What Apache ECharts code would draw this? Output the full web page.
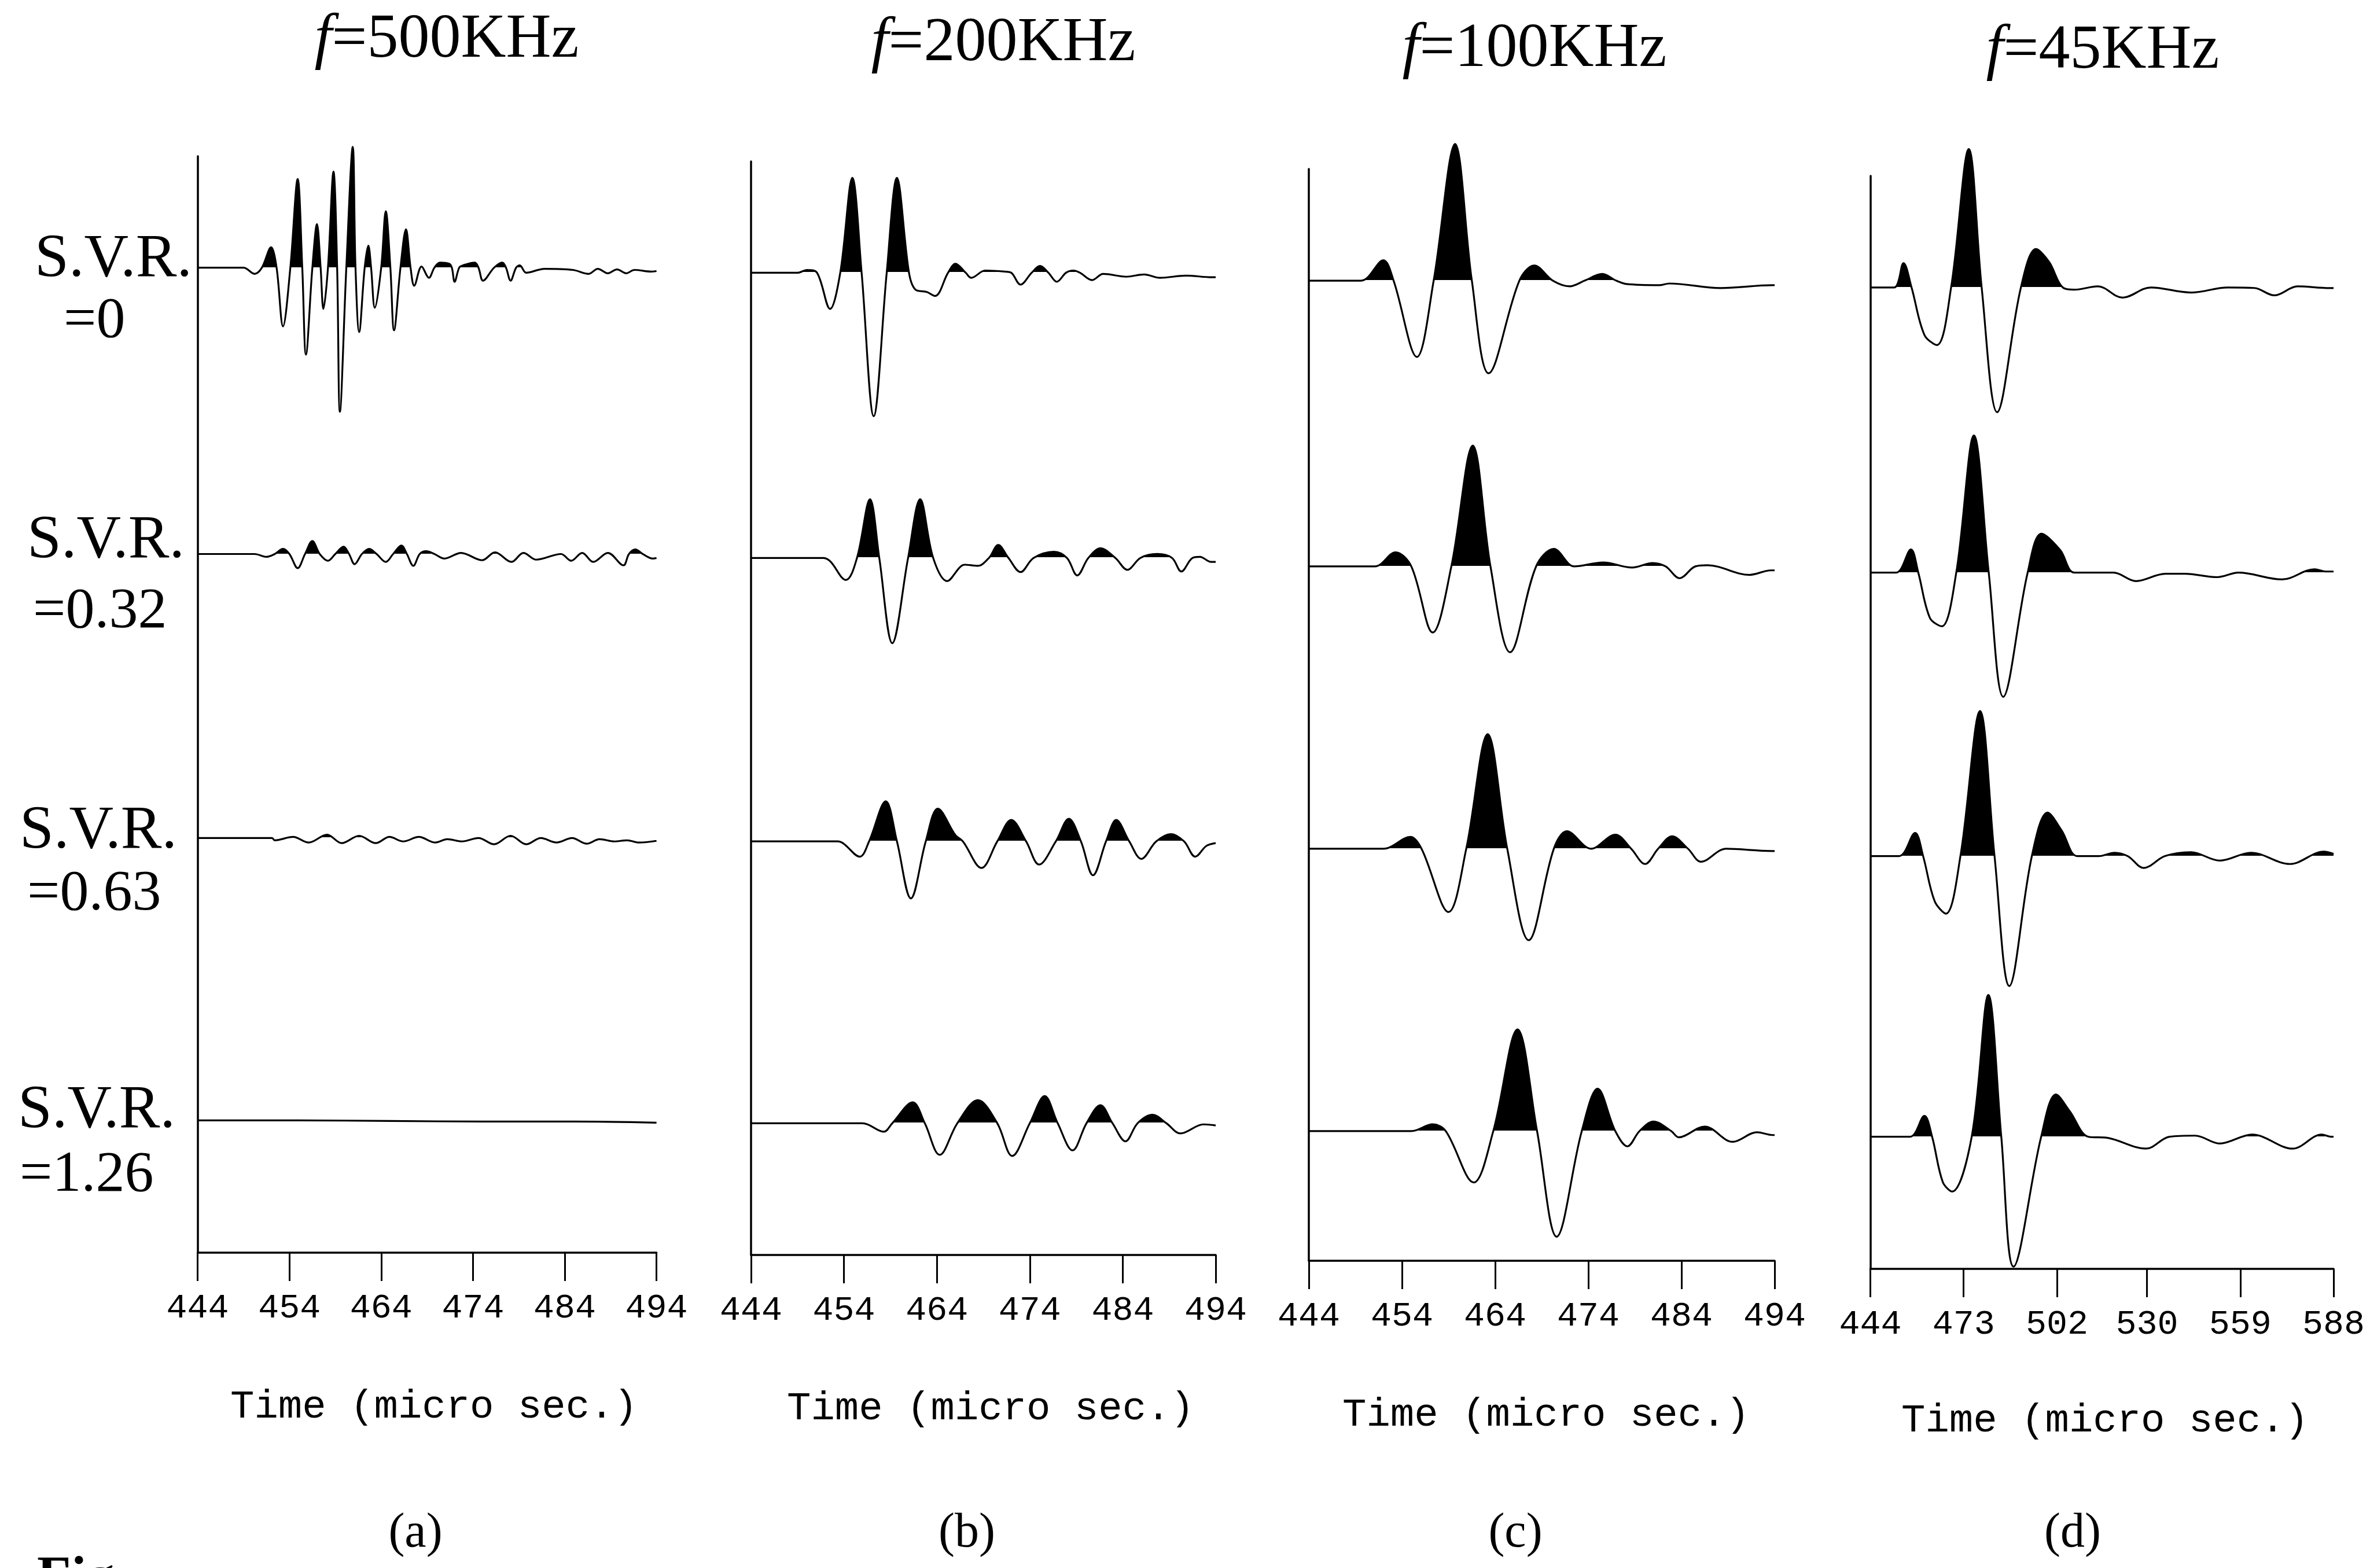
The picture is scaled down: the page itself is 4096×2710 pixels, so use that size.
<!DOCTYPE html>
<html><head><meta charset="utf-8">
<script src="https://cdn.jsdelivr.net/npm/echarts@6/dist/echarts.min.js"></script>
<style>html,body{margin:0;padding:0;background:#fff}#c{width:4096px;height:2710px}</style>
</head><body><div id="c"></div>
<script>
// ---------- DATA (time in micro sec, amplitude in arbitrary units) ----------
const FREQ_LABELS = ['=500KHz', '=200KHz', '=100KHz', '=45KHz'];
const PANEL_LABELS = ['(a)', '(b)', '(c)', '(d)'];
const SVR_HEAD = 'S.V.R.';
const SVR_VALUES = ['=0', '=0.32', '=0.63', '=1.26'];
const AXIS_TITLE = 'Time (micro sec.)';
const TICKS_50US = [444, 454, 464, 474, 484, 494];
const TICKS_45K = [444, 473, 502, 530, 559, 588];
const FIG_TEXT = 'Fig.';

// f = 500 KHz
const W500_SVR0 = [[444,0],[449.0,0],[450.2,-11],[451.0,0],[452.0,36],[452.6,0],[453.3,-104],[454.1,0],[454.9,157],[455.4,0],[455.8,-154],[456.5,0],[457.0,77],[457.4,0],[457.7,-73],[458.2,0],[458.8,170],[459.2,0],[459.5,-255],[460.2,0],[460.9,214],[461.2,0],[461.6,-114],[462.2,0],[462.6,39],[462.9,0],[463.3,-71],[464.0,0],[464.5,100],[465.0,0],[465.4,-111],[466.1,0],[466.7,68],[467.2,0],[467.6,-32],[468.4,2],[469.2,-18],[469.8,0],[470.4,9],[471.4,7],[471.7,0],[472.0,-25],[472.5,0],[472.9,4],[474.2,9],[474.6,0],[475.1,-23],[476.3,0],[477.2,9],[477.6,0],[478.1,-23],[478.7,0],[479.1,4],[479.8,-9],[481.8,-2],[484.9,-4],[486.6,-11],[487.6,-2],[488.7,-10],[489.7,-3],[490.7,-10],[491.6,-4],[493.4,-7],[494,-6]];
const W500_SVR032 = [[444,0],[450.2,0],[451.5,-5],[452.4,0],[453.3,9],[454.0,0],[454.9,-25],[455.7,0],[456.5,23],[457.3,0],[458.2,-12],[459.0,0],[459.9,13],[460.5,0],[461.1,-18],[461.9,0],[462.7,9],[463.5,0],[464.5,-14],[465.3,0],[466.2,15],[466.8,0],[467.5,-21],[468.2,0],[468.9,5],[469.8,0],[470.9,-8],[472.7,2],[475.0,-11],[476.4,3],[478.2,-14],[479.5,2],[480.9,-10],[483.6,0],[484.7,-12],[485.9,2],[487.1,-14],[488.7,2],[490.4,-20],[491.0,0],[491.7,8],[492.5,0],[493.6,-8],[494,-7]];
const W500_SVR063 = [[444,0],[452.1,0],[452.4,-4],[454.4,2],[456.1,-8],[458.1,6],[459.7,-9],[461.6,4],[463.4,-9],[464.9,2],[466.4,-6],[468.1,2],[469.9,-8],[471.2,-2],[472.8,-6],[474.6,0],[476.3,-11],[478.1,4],[479.8,-11],[481.4,0],[483.1,-8],[484.8,0],[486.4,-10],[487.8,-2],[489.4,-6],[490.8,-4],[492.1,-8],[494,-5]];
const W500_SVR126 = [[444,0],[455,0],[465,-1],[475,-2],[485,-2],[494,-4]];

// f = 200 KHz
const W200_SVR0 = [[444,0],[449.0,0],[450.0,5],[451.1,0],[452.5,-64],[453.6,0],[454.9,168],[455.9,0],[457.2,-254],[458.6,0],[459.7,168],[461.0,0],[461.7,-30],[462.9,-34],[463.8,-41],[465.2,0],[466.0,16],[467.1,0],[467.7,-9],[469.2,4],[471.3,2],[472.0,0],[473.0,-21],[474.2,0],[475.1,12],[476.0,0],[476.9,-16],[477.9,0],[478.7,4],[479.4,0],[480.7,-13],[481.9,-2],[484.4,-7],[486.3,-3],[488.0,-9],[490.8,-5],[493.6,-8],[494,-8]];
const W200_SVR032 = [[444,0],[451.8,0],[454.2,-39],[455.4,0],[456.8,104],[457.8,0],[459.2,-151],[460.9,0],[462.2,104],[463.6,0],[465.1,-41],[467.0,-12],[468.4,-14],[469.6,0],[470.6,23],[471.7,0],[473.0,-25],[474.4,0],[476.6,11],[478.0,0],[479.1,-31],[480.3,0],[481.6,17],[483.2,0],[484.5,-21],[485.9,0],[487.7,7],[489.3,0],[490.3,-24],[491.5,0],[492.3,2],[493.5,-7],[494,-7]];
const W200_SVR063 = [[444,0],[453.3,0],[455.7,-27],[456.7,0],[458.5,71],[459.7,0],[461.2,-101],[462.8,0],[464.1,58],[466.0,11],[466.8,0],[468.8,-47],[470.5,0],[472.0,38],[473.6,0],[475.0,-41],[476.8,0],[478.2,40],[479.5,0],[480.8,-60],[482.2,0],[483.3,38],[484.7,0],[486.0,-31],[487.6,0],[489.2,13],[490.6,0],[491.8,-27],[493.0,-8],[494,-3]];
const W200_SVR126 = [[444,0],[456.0,0],[458.3,-15],[459.2,0],[461.4,37],[462.7,0],[464.3,-56],[466.2,0],[468.4,41],[470.5,0],[472.1,-58],[474.0,0],[475.6,48],[477.0,0],[478.6,-48],[480.1,0],[481.6,32],[482.9,0],[484.3,-32],[485.6,0],[487.2,15],[488.7,0],[490.2,-18],[492.7,-2],[494,-4]];

// f = 100 KHz
const W100_SVR0 = [[444,0],[449.6,0],[452.0,36],[453.1,0],[455.6,-135],[457.4,0],[459.7,242],[461.5,0],[463.3,-164],[466.6,0],[468.2,27],[470.2,0],[472.0,-10],[473.6,0],[475.5,12],[477.0,0],[478.1,-6],[481.6,-8],[482.7,-5],[488.2,-13],[493.8,-8],[494,-8]];
const W100_SVR032 = [[444,0],[451.1,0],[453.3,25],[455.0,0],[457.3,-117],[459.3,0],[461.6,214],[463.5,0],[465.6,-152],[468.4,0],[470.3,31],[472.5,0],[475.6,7],[478.7,-2],[480.9,6],[482.3,0],[483.8,-21],[485.5,0],[486.8,2],[491.3,-15],[493.6,-7],[494,-7]];
const W100_SVR063 = [[444,0],[452.0,0],[454.9,21],[456.1,0],[459.0,-112],[460.9,0],[463.2,203],[465.3,0],[467.6,-162],[470.3,0],[471.7,31],[474.3,0],[476.9,25],[478.6,0],[480.1,-27],[481.5,0],[483.0,22],[484.7,0],[486.1,-23],[488.8,0],[493.7,-4],[494,-4]];
const W100_SVR126 = [[444,0],[455.0,0],[457.3,12],[458.7,0],[461.7,-91],[463.8,0],[466.4,180],[468.5,0],[470.6,-187],[473.3,0],[475.0,75],[476.9,0],[478.2,-27],[479.5,0],[481.0,17],[482.9,0],[483.7,-11],[486.5,8],[489.5,-19],[492.1,-2],[493.8,-7],[494,-7]];

// f = 45 KHz
const W45_SVR0 = [[444,0],[451.4,0],[454.3,43],[456.8,0],[460.8,-84],[464.7,-102],[469.1,0],[474.6,245],[478.6,0],[483.4,-221],[490.8,0],[495.5,68],[499.6,45],[503.8,0],[507.4,-4],[514.7,2],[522.4,-18],[531.2,0],[543.7,-9],[555.1,0],[563.4,-1],[569.6,-14],[576.8,2],[586.7,-1],[588,-1]];
const W45_SVR032 = [[444,0],[452.0,0],[456.6,41],[458.9,0],[462.5,-80],[466.2,-95],[470.7,0],[476.2,243],[480.8,0],[485.3,-220],[492.9,0],[497.2,69],[503.0,40],[507.5,0],[519.6,0],[526.6,-15],[535.7,-2],[541.8,-2],[551.9,-8],[558.4,0],[572.0,-12],[582.1,6],[585.6,2],[588,2]];
const W45_SVR063 = [[444,0],[452.9,0],[457.9,41],[460.4,0],[464.0,-80],[467.5,-102],[472.0,0],[478.1,257],[482.6,0],[487.2,-230],[494.2,0],[499.1,77],[503.5,45],[508.3,0],[515.0,0],[519.9,6],[524.0,0],[529.0,-21],[535.6,0],[543.6,7],[552.7,-8],[562.3,6],[574.4,-14],[585.0,8],[588,4]];
const W45_SVR126 = [[444,0],[456.3,0],[460.8,37],[463.2,0],[466.5,-80],[469.4,-97],[475.5,0],[480.7,251],[484.7,0],[488.5,-230],[497.1,0],[501.7,75],[506.0,45],[511.8,0],[517.8,-2],[529.7,-21],[537.0,0],[545.0,2],[552.6,-12],[562.7,4],[575.3,-21],[584.3,4],[587.4,0],[588,0]];

// ---------- LAYOUT ----------
const AMP_HALF = 300;      // amplitude half-range of each trace band
const PX_PER_UNIT = 0.976;
const SMOOTH = 0.35;
const FILL_FROM = 1;       // positive lobes are filled black above this level
const PANELS = [
  {left:341.6, width:793, top:270, bottom:2165, xMin:444, xMax:494, ticks:TICKS_50US,
   base:[462.6,957.5,1448.4,1936.4], traces:[W500_SVR0,W500_SVR032,W500_SVR063,W500_SVR126],
   titleX:772, titleY:70, axTitleX:750, axTitleY:2432, labX:718},
  {left:1298, width:803, top:279, bottom:2169, xMin:444, xMax:494, ticks:TICKS_50US,
   base:[471.4,964.3,1454.2,1941.3], traces:[W200_SVR0,W200_SVR032,W200_SVR063,W200_SVR126],
   titleX:1734, titleY:76, axTitleX:1712, axTitleY:2435, labX:1671},
  {left:2262, width:805, top:292, bottom:2179, xMin:444, xMax:494, ticks:TICKS_50US,
   base:[485.1,978.9,1466.9,1954.9], traces:[W100_SVR0,W100_SVR032,W100_SVR063,W100_SVR126],
   titleX:2652, titleY:86, axTitleX:2672, axTitleY:2446, labX:2619},
  {left:3232.5, width:800.5, top:304, bottom:2193, xMin:444, xMax:588, ticks:TICKS_45K,
   base:[496.8,989.7,1479.6,1964.7], traces:[W45_SVR0,W45_SVR032,W45_SVR063,W45_SVR126],
   titleX:3634, titleY:89, axTitleX:3638, axTitleY:2456, labX:3582}
];
const SVR_POS = [
  {hx:60, hy:449, vx:110, vy:556},
  {hx:47, hy:935, vx:57, vy:1058},
  {hx:34, hy:1437, vx:47, vy:1546},
  {hx:31, hy:1920, vx:34, vy:2032}
];

const grid = [], xAxis = [], yAxis = [], series = [], areaIdx = [], graphic = [];
PANELS.forEach((P, pi) => {
  const gi = grid.length;
  grid.push({left:P.left, width:P.width, top:P.top, height:P.bottom - P.top});
  xAxis.push({gridIndex:gi, type:'value', min:P.xMin, max:P.xMax,
    axisLine:{show:true, onZero:false, lineStyle:{color:'#000', width:3.5}},
    axisTick:{show:true, customValues:P.ticks, length:49, lineStyle:{color:'#000', width:3}},
    axisLabel:{show:true, customValues:P.ticks, margin:66, fontFamily:'Liberation Mono', fontSize:60, color:'#000', formatter:v => String(Math.round(v))},
    splitLine:{show:false}});
  yAxis.push({gridIndex:gi, type:'value', min:0, max:1,
    axisLine:{show:true, onZero:false, lineStyle:{color:'#000', width:3.5}},
    axisTick:{show:false}, axisLabel:{show:false}, splitLine:{show:false}});
  P.traces.forEach((tr, ri) => {
    const g = grid.length;
    const h = 2 * AMP_HALF * PX_PER_UNIT;
    grid.push({left:P.left, width:P.width, top:P.base[ri] - h / 2, height:h});
    xAxis.push({gridIndex:g, type:'value', min:P.xMin, max:P.xMax, show:false});
    yAxis.push({gridIndex:g, type:'value', min:-AMP_HALF, max:AMP_HALF, show:false});
    areaIdx.push(series.length);
    series.push({type:'line', xAxisIndex:g, yAxisIndex:g, data:tr, smooth:SMOOTH, showSymbol:false,
      lineStyle:{width:0, opacity:0}, areaStyle:{opacity:1}, silent:true, z:2, clip:false});
    series.push({type:'line', xAxisIndex:g, yAxisIndex:g, data:tr, smooth:SMOOTH, showSymbol:false,
      lineStyle:{color:'#000', width:3.2}, itemStyle:{color:'#000'}, silent:true, z:3, clip:false});
  });
  graphic.push({type:'text', x:P.titleX, y:P.titleY, style:{text:'{i|f}' + FREQ_LABELS[pi],
    fontFamily:'Liberation Serif', fontSize:108, fill:'#000', textAlign:'center', textVerticalAlign:'middle',
    rich:{i:{fontStyle:'italic', fontFamily:'Liberation Serif', fontSize:108, fill:'#000'}}}});
  graphic.push({type:'text', x:P.axTitleX, y:P.axTitleY, style:{text:AXIS_TITLE,
    fontFamily:'Liberation Mono', fontSize:69, fill:'#000', textAlign:'center', textVerticalAlign:'middle'}});
  graphic.push({type:'text', x:P.labX, y:2651, style:{text:PANEL_LABELS[pi],
    fontFamily:'Liberation Serif', fontSize:84, fill:'#000', textAlign:'center', textVerticalAlign:'middle'}});
});
SVR_VALUES.forEach((v, i) => {
  const s = SVR_POS[i];
  graphic.push({type:'text', x:s.hx, y:s.hy, style:{text:SVR_HEAD, fontFamily:'Liberation Serif', fontSize:106, fill:'#000', textAlign:'left', textVerticalAlign:'middle'}});
  graphic.push({type:'text', x:s.vx, y:s.vy, style:{text:v, fontFamily:'Liberation Serif', fontSize:100, fill:'#000', textAlign:'left', textVerticalAlign:'middle'}});
});
graphic.push({type:'text', x:64, y:2682, style:{text:FIG_TEXT, fontFamily:'Liberation Serif', fontWeight:'bold', fontSize:96, fill:'#000', textAlign:'left', textVerticalAlign:'top'}});

const chart = echarts.init(document.getElementById('c'), null, {renderer:'canvas', width:4096, height:2710});
chart.setOption({
  animation:false,
  backgroundColor:'#fff',
  grid, xAxis, yAxis, series, graphic,
  visualMap:{type:'piecewise', show:false, seriesIndex:areaIdx, dimension:1,
    pieces:[{gte:-1000, lt:FILL_FROM, color:'rgba(0,0,0,0)'}, {gte:FILL_FROM, lte:1000, color:'#000'}]}
});
</script></body></html>
